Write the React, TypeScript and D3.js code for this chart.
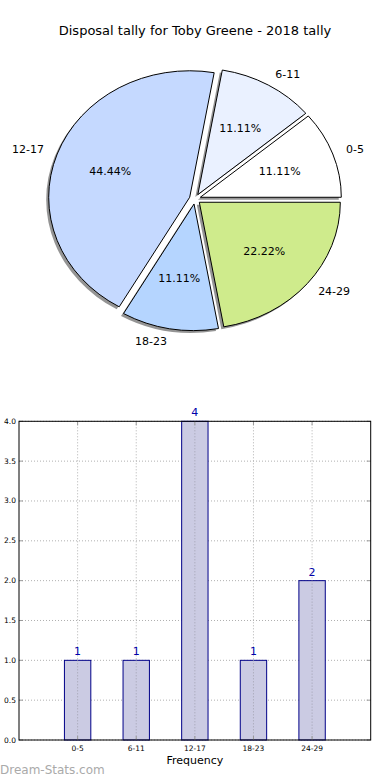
import React from 'react';
import * as d3 from 'd3';

const categories = ['0-5', '6-11', '12-17', '18-23', '24-29'];
const counts = [1, 1, 4, 1, 2];
const sliceColors = ['#ffffff', '#eaf1ff', '#c5d9ff', '#b5d5ff', '#cfeb8c'];
const yTicks = [0, 0.5, 1, 1.5, 2, 2.5, 3, 3.5, 4];

const W = 390;
const H = 780;
const font = 'DejaVu Sans, sans-serif';

// pie geometry (matplotlib pie squashed into an ellipse)
const cx = 195;
const cy = 199;
const rx = 141;
const ry = 126.5;
const explode = 0.04;

// bar axes box
const ax = {left: 19, right: 370.7, top: 421.3, bottom: 740};

const App: React.FC = () => {
    const total = d3.sum(counts);
    // matplotlib starts at 3 o'clock and runs counterclockwise
    const pie = d3.pie<number>().sort(null).startAngle(Math.PI / 2).endAngle(Math.PI / 2 - 2 * Math.PI);
    const arcs = pie(counts);
    const arc = d3.arc<d3.PieArcDatum<number>>().innerRadius(0).outerRadius(100);

    const x = d3.scaleLinear().domain([-1, 5]).range([ax.left, ax.right]);
    const y = d3.scaleLinear().domain([0, 4]).range([ax.bottom, ax.top]);
    const barW = x(0.45) - x(0);

    const fmt = (v: number) => v.toFixed(1);

    return (
        <svg width={W} height={H} style={{position: 'absolute', left: 0, top: 0, background: '#fff'}}
             fontFamily={font}>
            <rect width={W} height={H} fill="#fff"/>
            <text x={195} y={30} textAnchor="middle" dominantBaseline="central" fontSize={13} fill="#000">
                Disposal tally for Toby Greene - 2018 tally
            </text>

            {/* Schatten */}
            {arcs.map((a, i) => {
                const mid = (a.startAngle + a.endAngle) / 2;
                const ox = Math.sin(mid) * explode * 100;
                const oy = -Math.cos(mid) * explode * 100;
                return (
                    <g key={'s' + i} transform={`translate(${cx - 2.5},${cy + 2.5}) scale(${rx / 100},${ry / 100}) translate(${ox},${oy})`}>
                        <path d={arc(a)!} fill="#000" opacity={0.42}/>
                    </g>
                );
            })}
            {arcs.map((a, i) => {
                const mid = (a.startAngle + a.endAngle) / 2;
                const ox = Math.sin(mid) * explode * 100;
                const oy = -Math.cos(mid) * explode * 100;
                return (
                    <g key={'p' + i} transform={`translate(${cx},${cy}) scale(${rx / 100},${ry / 100}) translate(${ox},${oy})`}>
                        <path d={arc(a)!} fill={sliceColors[i]} stroke="#000" strokeWidth={1}
                              vectorEffect="non-scaling-stroke" strokeLinejoin="miter"/>
                    </g>
                );
            })}
            {arcs.map((a, i) => {
                const mid = (a.startAngle + a.endAngle) / 2;
                const lx = cx + rx * (1.1 + explode) * Math.sin(mid);
                const ly = cy - ry * (1.1 + explode) * Math.cos(mid);
                const px = cx + rx * (0.6 + explode) * Math.sin(mid);
                const py = cy - ry * (0.6 + explode) * Math.cos(mid);
                return (
                    <g key={'l' + i} fontSize={11} fill="#000">
                        <text x={lx} y={ly} textAnchor={lx > cx ? 'start' : 'end'} dominantBaseline="central">
                            {categories[i]}
                        </text>
                        <text x={px} y={py} textAnchor="middle" dominantBaseline="central">
                            {(counts[i] / total * 100).toFixed(2)}%
                        </text>
                    </g>
                );
            })}

            {/* Balkendiagramm */}
            <g>
                {yTicks.map(t => (
                    <line key={'gy' + t} x1={ax.left} x2={ax.right} y1={y(t)} y2={y(t)}
                          stroke="#b0b0b0" strokeWidth={1} strokeDasharray="1,2"/>
                ))}
                {categories.map((c, i) => (
                    <line key={'gx' + c} x1={x(i)} x2={x(i)} y1={ax.top} y2={ax.bottom}
                          stroke="#b0b0b0" strokeWidth={1} strokeDasharray="1,2"/>
                ))}
                {counts.map((v, i) => (
                    <g key={'b' + i}>
                        <rect x={x(i) - barW / 2} y={y(v)} width={barW} height={y(0) - y(v)}
                              fill="#cbcbe3" stroke="#000088" strokeWidth={1}/>
                        <line x1={x(i)} x2={x(i)} y1={y(v)} y2={ax.bottom}
                              stroke="#a0a0b0" strokeWidth={1} strokeDasharray="1,2"/>
                        <text x={x(i)} y={y(v) - 8.5} textAnchor="middle" dominantBaseline="central"
                              fontSize={11} fill="#0000aa">{v}</text>
                    </g>
                ))}
                {/* Ticks innen */}
                {yTicks.map(t => (
                    <g key={'ty' + t}>
                        <line x1={ax.left} x2={ax.left + 4} y1={y(t)} y2={y(t)} stroke="#999" strokeWidth={1}/>
                        <line x1={ax.right - 4} x2={ax.right} y1={y(t)} y2={y(t)} stroke="#999" strokeWidth={1}/>
                        <text x={ax.left - 3} y={y(t)} textAnchor="end" dominantBaseline="central"
                              fontSize={7.5} fill="#000">{fmt(t)}</text>
                    </g>
                ))}
                {categories.map((c, i) => (
                    <g key={'tx' + c}>
                        <line x1={x(i)} x2={x(i)} y1={ax.bottom} y2={ax.bottom - 4} stroke="#999" strokeWidth={1}/>
                        <line x1={x(i)} x2={x(i)} y1={ax.top} y2={ax.top + 4} stroke="#999" strokeWidth={1}/>
                        <text x={x(i)} y={ax.bottom + 8} textAnchor="middle" dominantBaseline="central"
                              fontSize={7.5} fill="#000">{c}</text>
                    </g>
                ))}
                <rect x={ax.left} y={ax.top} width={ax.right - ax.left} height={ax.bottom - ax.top}
                      fill="none" stroke="#000" strokeWidth={1}/>
                <text x={(ax.left + ax.right) / 2} y={760} textAnchor="middle" dominantBaseline="central"
                      fontSize={11} fill="#000">Frequency</text>
            </g>
            <text x={0} y={770} dominantBaseline="central" fontSize={12} fill="#aaa">Dream-Stats.com</text>
        </svg>
    );
};

export default App;
